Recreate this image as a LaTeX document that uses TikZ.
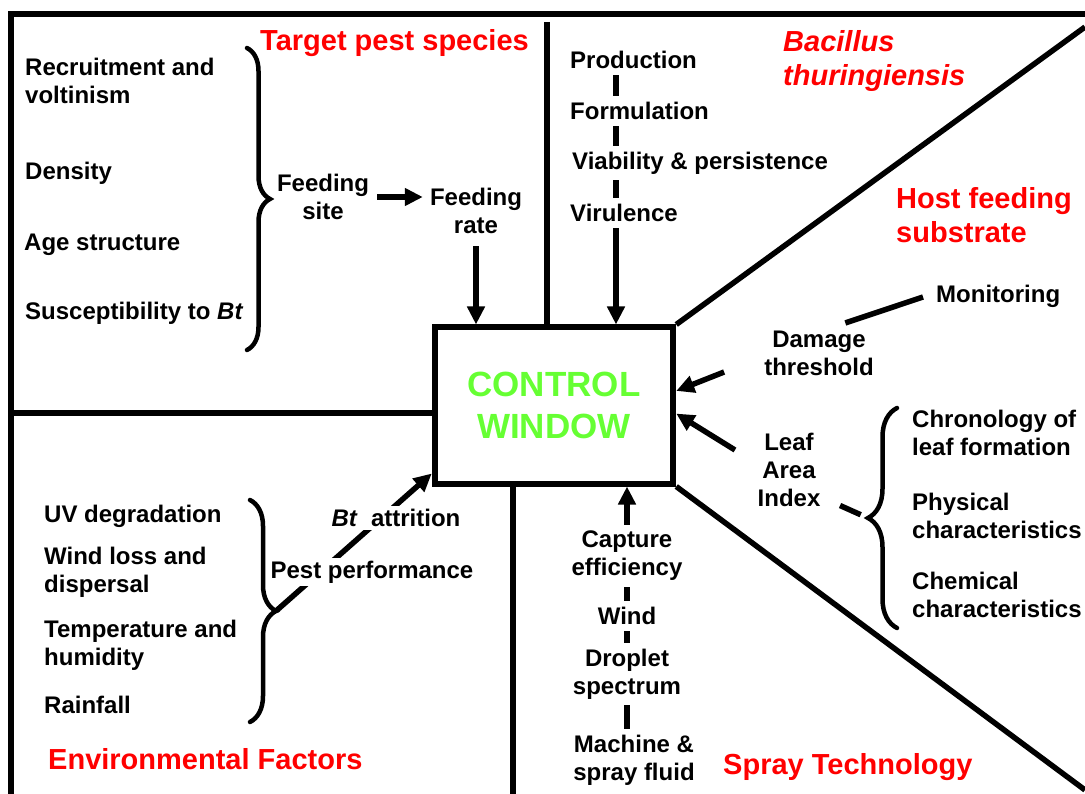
\documentclass[tikz,border=0pt]{standalone}
\usepackage{fontspec}
\setmainfont{Liberation Sans}
\usetikzlibrary{arrows.meta,decorations.pathreplacing,calc}
\definecolor{hred}{RGB}{255,0,0}
\definecolor{cgreen}{RGB}{102,255,51}
\begin{document}
\begin{tikzpicture}[x=1pt,y=-1pt,
  txt/.style={inner xsep=0pt, inner ysep=6pt, font=\fontsize{24}{28}\selectfont\bfseries},
  lt/.style={txt, anchor=west, align=left},
  ct/.style={txt, align=center},
  head/.style={inner sep=0pt, text=hred, font=\fontsize{29}{34}\selectfont\bfseries, align=left, anchor=west},
  frame/.style={line width=5.5pt},
  arr/.style={line width=5.5pt, -{Triangle[length=18pt,width=17pt]}},
  dsh/.style={line width=5.5pt},
  brc/.style={line width=4.5pt, line cap=round, decorate, decoration={brace, amplitude=#1}},
  cbox/.style={draw, line width=6pt, minimum width=238.5pt, minimum height=156pt, inner sep=0pt,
    text=cgreen, font=\fontsize{35}{42}\selectfont\bfseries, align=center},
]
\useasboundingbox (0,0) rectangle (1085,794);

% central box
\node[cbox] (box) at (554,405.5) {CONTROL\\WINDOW};

% frame and partition lines
\draw[frame] (11,794) -- (11,14) -- (1085,14);
\coordinate (v1) at (547,22);
\draw[frame] (v1) -- (v1 |- box.north);
\coordinate (h1) at (11,413);
\draw[frame] (h1) -- (h1 -| box.west);
\coordinate (v2) at (513,794);
\draw[frame] (v2) -- (v2 |- box.south);
\coordinate (d1) at (1085,27);
\coordinate (d2) at (1085,790);
\draw[frame] (box.north east) -- (d1);
\draw[frame] (box.south east) -- (d2);

% headings
\node[head] (tps) at (260,43) {Target pest species};
\node[head, font=\fontsize{29}{34}\selectfont\bfseries\itshape] (btl) at (783,61) {Bacillus\\thuringiensis};
\node[head] (hfs) at (896,215) {Host feeding\\substrate};
\node[head] (env) at (48,759) {Environmental Factors};
\node[head] (spr) at (723,767) {Spray Technology};

% target pest species
\node[lt] (rec) at (25,81) {Recruitment and\\voltinism};
\node[lt] (den) at (25,173) {Density};
\node[lt] (age) at (24,245) {Age structure};
\node[lt] (sus) at (25,313) {Susceptibility to \textit{Bt}};
\draw[brc=23pt] (247,48) -- (247,350);
\node[ct] (fs) at (323,197) {Feeding\\site};
\node[ct] (fr) at (476,211) {Feeding\\rate};
\draw[arr, shorten <=8pt, shorten >=7pt] (fs.east) -- (fs.east -| fr.west);
\draw[arr, shorten <=6pt] (fr.south) -- (fr.south |- box.north);

% Bacillus thuringiensis
\coordinate (bx) at (616,0);
\node[lt] (prod) at (570,60) {Production};
\node[lt] (form) at (570,111) {Formulation};
\node[lt] (via) at (572,163) {Viability \& persistence};
\node[lt] (vir) at (570,213) {Virulence};
\draw[dsh] (prod.south -| bx) -- (form.north -| bx);
\draw[dsh] (form.south -| bx) -- (via.north -| bx);
\draw[dsh] (via.south -| bx) -- (vir.north -| bx);
\draw[arr] (vir.south -| bx) -- (box.north -| bx);

% host feeding substrate
\node[lt] (mon) at (936,296) {Monitoring};
\node[ct] (dam) at (819,353) {Damage\\threshold};
\node[ct] (leaf) at (789,470) {Leaf\\Area\\Index};
\node[lt] (chr) at (912,433) {Chronology of\\leaf formation};
\node[lt] (phy) at (912,516) {Physical\\characteristics};
\node[lt] (che) at (912,595) {Chemical\\characteristics};
\draw[dsh] ($(mon.west)+(-13,1)$) -- ($(dam.north east)+(-28.5,-1.5)$);
\draw[arr] ($(dam.west)+(-40,19)$) -- ($(box.north east)!0.41!(box.south east)$);
\draw[arr] ($(leaf.west)+(-22.5,-20)$) -- ($(box.north east)!0.55!(box.south east)$);
\draw[brc=29pt] (897,628) -- (897,408);
\coordinate (b3) at (868,518);
\draw[dsh, shorten >=8pt] ($(leaf.south east)+(19.5,-7.5)$) -- (b3);

% spray technology
\coordinate (cx) at (627,0);
\node[ct] (cap) at (627,556) {Capture\\efficiency};
\node[ct] (wind) at (627,616) {Wind};
\node[ct] (drop) at (627,674) {Droplet\\spectrum};
\node[ct] (mach) at (634,760) {Machine \&\\spray fluid};
\draw[arr] (cap.north -| cx) -- (box.south -| cx);
\draw[dsh] (cap.south -| cx) -- (wind.north -| cx);
\draw[dsh] (wind.south -| cx) -- (drop.north -| cx);
\draw[dsh] (drop.south -| cx) -- (mach.north -| cx);

% environmental factors
\node[lt] (uv) at (44,516) {UV degradation};
\node[lt] (wl) at (44,572) {Wind loss and\\dispersal};
\node[lt] (tem) at (44,645) {Temperature and\\humidity};
\node[lt] (rain) at (44,705) {Rainfall};
\draw[brc=26pt] (250,500) -- (250,722);
\coordinate (b2) at (276,611);
\draw[arr] (b2) -- ($(box.south west)+(0,-13)$);
\node[ct, fill=white, inner ysep=3pt] (pp) at (372,572) {Pest performance};
\node[ct, fill=white, inner ysep=3pt] (bta) at (396,518) {\textit{Bt}\ \ attrition};
\end{tikzpicture}
\end{document}
